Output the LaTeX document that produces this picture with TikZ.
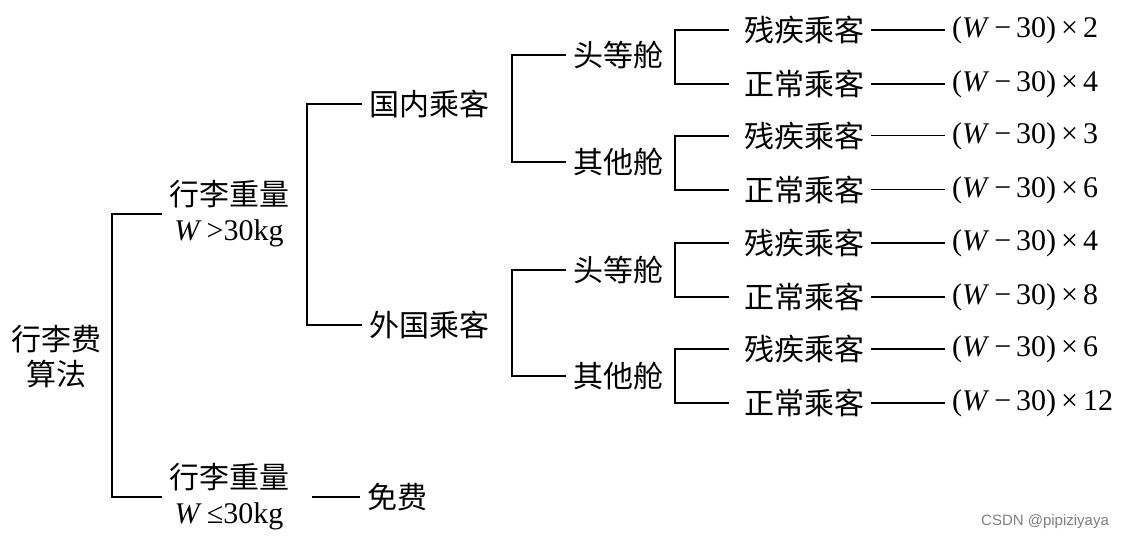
\documentclass[tikz,border=0pt]{standalone}
\usepackage{fontspec}
\setmainfont{Liberation Serif}
\setsansfont{Liberation Sans}
\newfontfamily\cjk{Noto Sans CJK SC}
\usepackage{xcolor}
\usepackage{tikz}
\usetikzlibrary{positioning}

\begin{document}
\begin{tikzpicture}[x=0.5pt, y=-0.5pt,
      cn/.style={font=\cjk\fontsize{15}{17.5}\selectfont, align=center},
      leaf/.style={cn, anchor=west},
      fml/.style={font=\fontsize{15}{17.5}\selectfont, anchor=west},
      ln/.style={line width=0.9pt},
      thin/.style={line width=0.5pt}
  ]
    \useasboundingbox (0,0) rectangle (1129,539);
    % root and weight split
    \node[cn] (fee) at (56,357) {行李费\\ 算法};
    \node[leaf] (hv) at (162,214) {行李重量\\ {\rmfamily\textit{W}\,>30kg}};
    \node[leaf] (lt) at (162,497) {行李重量\\ {\rmfamily\textit{W}\,≤30kg}};
    \node[leaf] (free) at (360,497) {免费};
    \draw[ln] (hv.west) -- ++(-50,0) |- (lt.west);
    \draw[ln] ([xshift=8]lt.east) -- (free.west);
    % passenger origin
    \node[leaf] (dom) at (362,104) {国内乘客};
    \node[leaf] (frn) at (362,325) {外国乘客};
    \draw[ln] (dom.west) -- ++(-55,0) |- (frn.west);
    % cabins
    \node[leaf] (dfc) at (566,55)  {头等舱};
    \node[leaf] (doc) at (566,162) {其他舱};
    \node[leaf] (ffc) at (566,270) {头等舱};
    \node[leaf] (foc) at (566,376) {其他舱};
    \draw[ln] (dfc.west) -- ++(-54,0) |- (doc.west);
    \draw[ln] (ffc.west) -- ++(-54,0) |- (foc.west);
    % passengers
    \node[leaf] (p1) at (737,30)  {残疾乘客};
    \node[leaf] (p2) at (737,84)  {正常乘客};
    \node[leaf] (p3) at (737,136) {残疾乘客};
    \node[leaf] (p4) at (737,190) {正常乘客};
    \node[leaf] (p5) at (737,243) {残疾乘客};
    \node[leaf] (p6) at (737,297) {正常乘客};
    \node[leaf] (p7) at (737,349) {残疾乘客};
    \node[leaf] (p8) at (737,403) {正常乘客};
    \draw[ln] ([xshift=-4]p1.west) -- ++(-54,0) |- ([xshift=-4]p2.west);
    \draw[ln] ([xshift=-4]p3.west) -- ++(-54,0) |- ([xshift=-4]p4.west);
    \draw[ln] ([xshift=-4]p5.west) -- ++(-54,0) |- ([xshift=-4]p6.west);
    \draw[ln] ([xshift=-4]p7.west) -- ++(-54,0) |- ([xshift=-4]p8.west);
    % charges
    \node[fml] (f1) at (945,30)  {(\textit{W}\,−\,30)\,×\,2};
    \node[fml] (f2) at (945,84)  {(\textit{W}\,−\,30)\,×\,4};
    \node[fml] (f3) at (945,136) {(\textit{W}\,−\,30)\,×\,3};
    \node[fml] (f4) at (945,190) {(\textit{W}\,−\,30)\,×\,6};
    \node[fml] (f5) at (945,243) {(\textit{W}\,−\,30)\,×\,4};
    \node[fml] (f6) at (945,297) {(\textit{W}\,−\,30)\,×\,8};
    \node[fml] (f7) at (945,349) {(\textit{W}\,−\,30)\,×\,6};
    \node[fml] (f8) at (945,403) {(\textit{W}\,−\,30)\,×\,12};
    \draw[ln] (p1) -- (f1); \draw[ln] (p2) -- (f2);
    \draw[thin] (p3) -- (f3); \draw[thin] (p4) -- (f4);
    \draw[ln] (p5) -- (f5); \draw[ln] (p6) -- (f6);
    \draw[ln] (p7) -- (f7); \draw[ln] (p8) -- (f8);
    \node[font=\sffamily\fontsize{7.5}{9}\selectfont, text=gray, anchor=east] (mark) at (1116,522) {CSDN @pipiziyaya};
  \end{tikzpicture}
\end{document}
